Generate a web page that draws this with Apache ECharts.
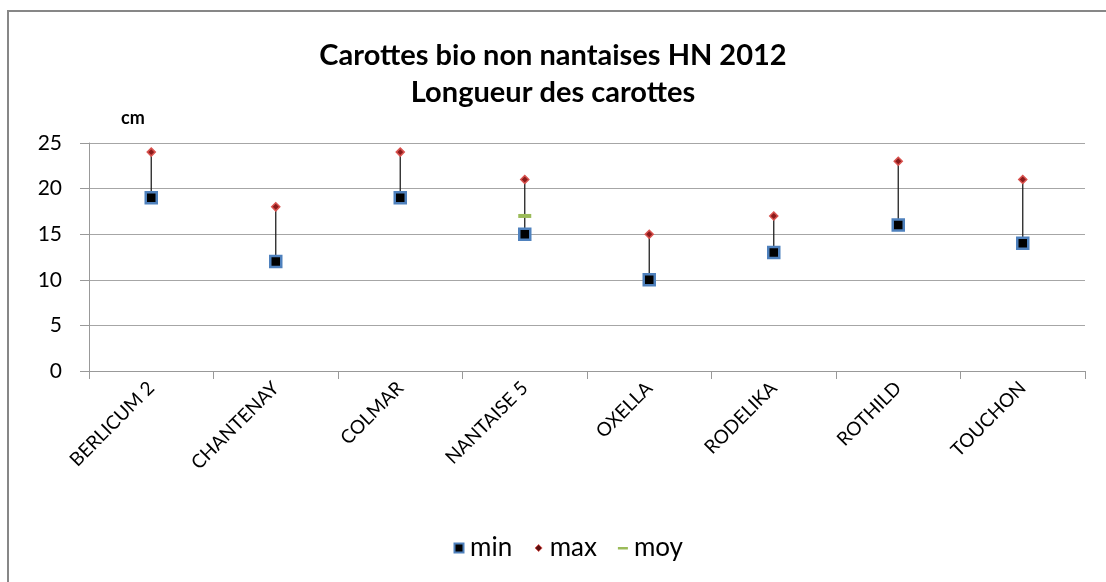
<!DOCTYPE html>
<html><head><meta charset="utf-8">
<script src="https://cdn.jsdelivr.net/npm/echarts@6/dist/echarts.min.js"></script>
<style>html,body{margin:0;padding:0;background:#fff}#c{width:1106px;height:582px}</style>
</head><body><div id="c"></div>
<script>
const categories = ['BERLICUM 2','CHANTENAY','COLMAR','NANTAISE 5','OXELLA','RODELIKA','ROTHILD','TOUCHON'];
const minValues = [19,12,19,15,10,13,16,14];
const maxValues = [24,18,24,21,15,17,23,21];
const moyValues = [null,null,null,17,null,null,null,null];
const yTicks = [0,5,10,15,20,25];

const FONT = 'Lato';
const chart = echarts.init(document.getElementById('c'));
chart.setOption({
  animation:false,
  backgroundColor:'#fff',
  textStyle:{fontFamily:FONT},
  graphic:[
    {type:'rect',shape:{x:8,y:11,width:1200,height:700},style:{fill:'none',stroke:'#878787',lineWidth:2},silent:true,z:-1},
    {type:'text',left:121,top:109,style:{text:'cm',font:'bold 18px '+FONT,fill:'#000'}}
  ],
  title:{
    text:'Carottes bio non nantaises HN 2012\nLongueur des carottes',
    left:'center',top:32,
    textStyle:{fontFamily:FONT,fontWeight:'bold',fontSize:29,color:'#000',lineHeight:37}
  },
  legend:{
    bottom:16,left:447,itemGap:20,itemWidth:12,itemHeight:12,
    textStyle:{fontFamily:FONT,fontSize:26,color:'#000',padding:[0,0,0,0]},
    data:[
      {name:'min',icon:'path://M0,0 M12,12 M1.5,1.5 L10.5,1.5 L10.5,10.5 L1.5,10.5 Z',itemStyle:{color:'#000',borderColor:'#4F81BD',borderWidth:2}},
      {name:'max',icon:'path://M0,0 M12,12 M6,2.5 L9.5,6 L6,9.5 L2.5,6 Z',itemStyle:{color:'#5a1010',borderColor:'#D9534F',borderWidth:1}},
      {name:'moy',icon:'path://M0,0 M12,12 M1,5 L11,5 L11,7.5 L1,7.5 Z',itemStyle:{color:'#9BBB59',borderWidth:0}}
    ]
  },
  grid:{left:89,right:21,top:143,bottom:211,containLabel:false},
  xAxis:{
    type:'category',data:categories,boundaryGap:true,
    axisLine:{lineStyle:{color:'#999',width:1}},
    axisTick:{show:true,alignWithLabel:false,length:8,lineStyle:{color:'#999'}},
    axisLabel:{rotate:45,fontSize:19,color:'#000',margin:14,fontFamily:FONT},
    splitLine:{show:false}
  },
  yAxis:{
    type:'value',min:0,max:25,interval:5,
    axisLine:{show:true,lineStyle:{color:'#999'}},
    axisTick:{show:true,length:9,lineStyle:{color:'#999'}},
    axisLabel:{fontSize:21,color:'#000',margin:27,fontFamily:FONT,
      formatter:v=>yTicks.includes(v)?String(v):''},
    splitLine:{lineStyle:{color:'#a6a6a6',width:1}}
  },
  series:[
    {
      type:'custom',name:'range',silent:true,z:1,
      data:categories.map((c,i)=>[i,minValues[i],maxValues[i]]),
      renderItem:(params,api)=>{
        const p1=api.coord([api.value(0),api.value(1)]);
        const p2=api.coord([api.value(0),api.value(2)]);
        return {type:'line',shape:{x1:p1[0],y1:p1[1],x2:p2[0],y2:p2[1]},style:{stroke:'#222',lineWidth:1.3}};
      }
    },
    {name:'min',type:'scatter',data:minValues,symbol:'rect',symbolSize:11,z:3,
      itemStyle:{color:'#000',borderColor:'#4F81BD',borderWidth:2.5,opacity:1}},
    {name:'max',type:'scatter',data:maxValues,symbol:'diamond',symbolSize:8,z:3,
      itemStyle:{color:'#8B1A1A',borderColor:'#D9534F',borderWidth:1.5,opacity:1}},
    {name:'moy',type:'scatter',data:moyValues,symbol:'rect',symbolSize:[13,4],z:3,
      itemStyle:{color:'#9BBB59',opacity:1}}
  ]
});
</script></body></html>
